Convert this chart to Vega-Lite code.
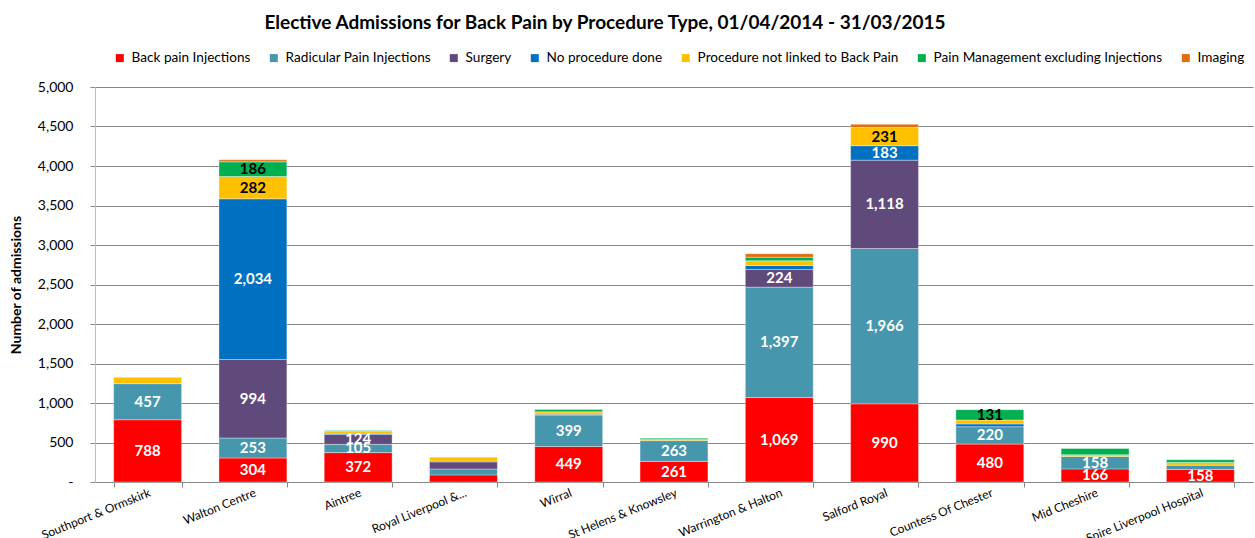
{
  "$schema": "https://vega.github.io/schema/vega-lite/v6.json",
  "autosize": "none",
  "width": 1158,
  "height": 395,
  "padding": {"left": 95, "top": 87, "right": 2, "bottom": 56},
  "background": "white",
  "config": {"font": "Lato", "view": {"stroke": null}},
  "title": {"text": "Elective Admissions for Back Pain by Procedure Type, 01/04/2014 - 31/03/2015", "fontSize": 19, "fontWeight": "bold", "font": "Lato", "color": "#000000", "anchor": "middle", "dx": -69, "offset": 18},
  "data": {"values": [
    {"site": "Southport & Ormskirk", "type": "Back pain Injections", "value": 788},
    {"site": "Southport & Ormskirk", "type": "Radicular Pain Injections", "value": 457},
    {"site": "Southport & Ormskirk", "type": "Procedure not linked to Back Pain", "value": 80},
    {"site": "Walton Centre", "type": "Back pain Injections", "value": 304},
    {"site": "Walton Centre", "type": "Radicular Pain Injections", "value": 253},
    {"site": "Walton Centre", "type": "Surgery", "value": 994},
    {"site": "Walton Centre", "type": "No procedure done", "value": 2034},
    {"site": "Walton Centre", "type": "Procedure not linked to Back Pain", "value": 282},
    {"site": "Walton Centre", "type": "Pain Management excluding Injections", "value": 186},
    {"site": "Walton Centre", "type": "Imaging", "value": 25},
    {"site": "Aintree", "type": "Back pain Injections", "value": 372},
    {"site": "Aintree", "type": "Radicular Pain Injections", "value": 105},
    {"site": "Aintree", "type": "Surgery", "value": 124},
    {"site": "Aintree", "type": "No procedure done", "value": 15},
    {"site": "Aintree", "type": "Procedure not linked to Back Pain", "value": 30},
    {"site": "Aintree", "type": "Pain Management excluding Injections", "value": 5},
    {"site": "Royal Liverpool &...", "type": "Back pain Injections", "value": 90},
    {"site": "Royal Liverpool &...", "type": "Radicular Pain Injections", "value": 75},
    {"site": "Royal Liverpool &...", "type": "Surgery", "value": 90},
    {"site": "Royal Liverpool &...", "type": "No procedure done", "value": 10},
    {"site": "Royal Liverpool &...", "type": "Procedure not linked to Back Pain", "value": 45},
    {"site": "Royal Liverpool &...", "type": "Pain Management excluding Injections", "value": 5},
    {"site": "Wirral", "type": "Back pain Injections", "value": 449},
    {"site": "Wirral", "type": "Radicular Pain Injections", "value": 399},
    {"site": "Wirral", "type": "No procedure done", "value": 10},
    {"site": "Wirral", "type": "Procedure not linked to Back Pain", "value": 30},
    {"site": "Wirral", "type": "Pain Management excluding Injections", "value": 30},
    {"site": "St Helens & Knowsley", "type": "Back pain Injections", "value": 261},
    {"site": "St Helens & Knowsley", "type": "Radicular Pain Injections", "value": 263},
    {"site": "St Helens & Knowsley", "type": "Procedure not linked to Back Pain", "value": 15},
    {"site": "St Helens & Knowsley", "type": "Pain Management excluding Injections", "value": 15},
    {"site": "Warrington & Halton", "type": "Back pain Injections", "value": 1069},
    {"site": "Warrington & Halton", "type": "Radicular Pain Injections", "value": 1397},
    {"site": "Warrington & Halton", "type": "Surgery", "value": 224},
    {"site": "Warrington & Halton", "type": "No procedure done", "value": 50},
    {"site": "Warrington & Halton", "type": "Procedure not linked to Back Pain", "value": 60},
    {"site": "Warrington & Halton", "type": "Pain Management excluding Injections", "value": 45},
    {"site": "Warrington & Halton", "type": "Imaging", "value": 45},
    {"site": "Salford Royal", "type": "Back pain Injections", "value": 990},
    {"site": "Salford Royal", "type": "Radicular Pain Injections", "value": 1966},
    {"site": "Salford Royal", "type": "Surgery", "value": 1118},
    {"site": "Salford Royal", "type": "No procedure done", "value": 183},
    {"site": "Salford Royal", "type": "Procedure not linked to Back Pain", "value": 231},
    {"site": "Salford Royal", "type": "Imaging", "value": 40},
    {"site": "Countess Of Chester", "type": "Back pain Injections", "value": 480},
    {"site": "Countess Of Chester", "type": "Radicular Pain Injections", "value": 220},
    {"site": "Countess Of Chester", "type": "No procedure done", "value": 35},
    {"site": "Countess Of Chester", "type": "Procedure not linked to Back Pain", "value": 50},
    {"site": "Countess Of Chester", "type": "Pain Management excluding Injections", "value": 131},
    {"site": "Mid Cheshire", "type": "Back pain Injections", "value": 166},
    {"site": "Mid Cheshire", "type": "Radicular Pain Injections", "value": 158},
    {"site": "Mid Cheshire", "type": "Procedure not linked to Back Pain", "value": 20},
    {"site": "Mid Cheshire", "type": "Pain Management excluding Injections", "value": 80},
    {"site": "Spire Liverpool Hospital", "type": "Back pain Injections", "value": 158},
    {"site": "Spire Liverpool Hospital", "type": "Radicular Pain Injections", "value": 55},
    {"site": "Spire Liverpool Hospital", "type": "Procedure not linked to Back Pain", "value": 35},
    {"site": "Spire Liverpool Hospital", "type": "Pain Management excluding Injections", "value": 35}
  ]},
  "transform": [
    {"calculate": "indexof(['Back pain Injections','Radicular Pain Injections','Surgery','No procedure done','Procedure not linked to Back Pain','Pain Management excluding Injections','Imaging'], datum.type)", "as": "k"},
    {"stack": "value", "groupby": ["site"], "sort": [{"field": "k", "order": "ascending"}], "as": ["y0", "y1"]},
    {"calculate": "(datum.y0 + datum.y1) / 2", "as": "ym"}
  ],
  "encoding": {
    "x": {"field": "site", "type": "nominal", "sort": null, "title": null,
      "scale": {"paddingInner": 0.355, "paddingOuter": 0.1775},
      "axis": {"labelAngle": -22, "labelAlign": "right", "labelBaseline": "top", "labelFontSize": 12, "labelColor": "#000000", "labelPadding": 0, "tickBand": "extent", "tickSize": 5, "tickColor": "#868686", "domainColor": "#868686", "labelFont": "Lato", "labelOverlap": false, "labelBound": false}
    }
  },
  "layer": [
    {
      "mark": {"type": "bar", "stroke": "white", "strokeWidth": 0.6, "strokeOpacity": 0.6},
      "encoding": {
        "y": {"field": "y0", "type": "quantitative", "scale": {"domain": [0, 5000]},
          "title": "Number of admissions",
          "axis": {"values": [0, 500, 1000, 1500, 2000, 2500, 3000, 3500, 4000, 4500, 5000], "labelOverlap": false, "labelExpr": "datum.value == 0 ? '-' : format(datum.value, ',')", "labelFontSize": 14, "labelColor": "#000000", "labelPadding": 17, "tickSize": 5, "tickColor": "#868686", "domainColor": "#BFBFBF", "gridColor": "#868686", "grid": true, "titleFontSize": 14, "titleFontWeight": "bold", "titleColor": "#000000", "titlePadding": 14, "labelFont": "Lato", "titleFont": "Lato"}},
        "y2": {"field": "y1"},
        "color": {"field": "type", "type": "nominal", "title": null,
          "scale": {"domain": ["Back pain Injections", "Radicular Pain Injections", "Surgery", "No procedure done", "Procedure not linked to Back Pain", "Pain Management excluding Injections", "Imaging"],
            "range": ["#FF0000", "#4697AE", "#604A7B", "#0070C0", "#FFC000", "#00B050", "#E46C0A"]},
          "legend": {"orient": "none", "direction": "horizontal", "legendX": 18, "legendY": -36, "symbolType": "square", "symbolSize": 64, "symbolStrokeWidth": 0, "labelFontSize": 13.6, "labelColor": "#000000", "labelOffset": 5, "columnPadding": 16, "labelFont": "Lato", "labelLimit": 400}
        }
      }
    },
    {
      "transform": [{"filter": "datum.value >= 100"}],
      "mark": {"type": "text", "fontSize": 15, "fontWeight": "bold", "baseline": "middle", "align": "center", "font": "Lato"},
      "encoding": {
        "y": {"field": "ym", "type": "quantitative", "scale": {"domain": [0, 5000]},
          "axis": {"values": [0, 500, 1000, 1500, 2000, 2500, 3000, 3500, 4000, 4500, 5000], "labelOverlap": false, "labelExpr": "datum.value == 0 ? '-' : format(datum.value, ',')", "labelFontSize": 14, "labelColor": "#000000", "labelPadding": 17, "tickSize": 5, "tickColor": "#868686", "domainColor": "#BFBFBF", "gridColor": "#868686", "grid": true, "titleFontSize": 14, "titleFontWeight": "bold", "titleColor": "#000000", "titlePadding": 14, "labelFont": "Lato", "titleFont": "Lato"}},
        "text": {"field": "value", "type": "quantitative", "format": ","},
        "color": {"condition": {"test": "datum.type === 'Procedure not linked to Back Pain' || datum.type === 'Pain Management excluding Injections'", "value": "#000000"}, "value": "#FFFFFF"}
      }
    }
  ]
}
